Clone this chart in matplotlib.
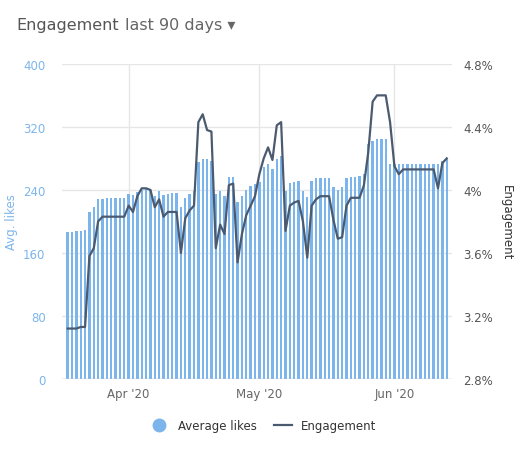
import numpy as np
import pandas as pd
import matplotlib.pyplot as plt
import matplotlib.dates as mdates
from matplotlib.lines import Line2D

dates = pd.date_range('2020-03-18', '2020-06-13', freq='D')

avg_likes = [187, 187, 188, 188, 189,
             212, 218, 228, 229, 230, 230, 230, 230, 230,
             235, 233, 237, 240, 241, 240, 232, 238, 233, 235, 236, 236, 218, 230, 235,
             238, 275, 279, 279, 277, 235, 238, 232, 256, 256, 225, 232, 240, 245, 248,
             250, 269, 273, 267, 279, 283, 239, 249, 250, 251, 239, 231, 251, 255, 255,
             255, 255, 244, 240, 244, 255, 256, 256, 258, 260, 298, 302, 304, 305, 305, 273,
             273, 273, 273, 273, 273, 273, 273, 273, 273, 273, 273, 277, 279]

engagement = [3.12, 3.12, 3.12, 3.13, 3.13,
              3.58, 3.63, 3.80, 3.83, 3.83, 3.83, 3.83, 3.83, 3.83,
              3.90, 3.86, 3.96, 4.01, 4.01, 4.00, 3.89, 3.94, 3.83, 3.86, 3.86, 3.86, 3.60, 3.82, 3.87,
              3.90, 4.43, 4.48, 4.38, 4.37, 3.63, 3.78, 3.72, 4.03, 4.04, 3.54, 3.72, 3.84, 3.90, 3.96,
              4.10, 4.20, 4.27, 4.19, 4.41, 4.43, 3.74, 3.90, 3.92, 3.93, 3.80, 3.57, 3.90, 3.94, 3.96,
              3.96, 3.96, 3.81, 3.69, 3.70, 3.90, 3.95, 3.95, 3.95, 4.03, 4.24, 4.56, 4.60, 4.60, 4.60, 4.43,
              4.15, 4.10, 4.13, 4.13, 4.13, 4.13, 4.13, 4.13, 4.13, 4.13, 4.01, 4.17, 4.20]

left_ticks = [0, 80, 160, 240, 320, 400]
right_ticks = [2.8, 3.2, 3.6, 4.0, 4.4, 4.8]
right_labels = ['2.8%', '3.2%', '3.6%', '4%', '4.4%', '4.8%']

bar_col = '#7cb5ec'
line_col = '#4b5a6e'
grid_col = '#e6e6e6'

fig = plt.figure(figsize=(5.27, 4.6), dpi=100)
ax = fig.add_axes([0.118, 0.174, 0.74, 0.685])
ax.bar(dates, avg_likes, width=0.55, color=bar_col, zorder=2)
ax.set_ylim(0, 400)
ax.set_yticks(left_ticks)
ax.set_xlim(pd.Timestamp('2020-03-16 18:00'), pd.Timestamp('2020-06-14 06:00'))
ax.xaxis.set_major_locator(mdates.MonthLocator(bymonthday=1))
ax.xaxis.set_major_formatter(mdates.DateFormatter("%b '%y"))
ax.grid(True, color=grid_col, lw=1, zorder=0)
for s in ax.spines.values():
    s.set_visible(False)
ax.tick_params(axis='y', colors=bar_col, length=0, labelsize=8.5, pad=12)
ax.tick_params(axis='x', colors='#666666', length=0, labelsize=8.5, pad=6)
ax.axhline(0, color='#cccccc', lw=1, zorder=3)
ax.set_ylabel('Avg. likes', color=bar_col, fontsize=8.5, labelpad=4)

ax2 = ax.twinx()
ax2.plot(dates, engagement, color=line_col, lw=1.6, zorder=4)
ax2.set_ylim(2.8, 4.8)
ax2.set_yticks(right_ticks)
ax2.set_yticklabels(right_labels)
for s in ax2.spines.values():
    s.set_visible(False)
ax2.tick_params(axis='y', colors='#555555', length=0, labelsize=8.5, pad=8)
ax2.set_ylabel('Engagement', color='#333333', fontsize=8.5, rotation=270, labelpad=14)

t1 = fig.text(0.032, 0.945, 'Engagement', fontsize=11.5, color='#555555', va='center')
fig.canvas.draw()
ax.annotate('last 90 days \u25be', xy=(1, 0.5), xycoords=t1, xytext=(4, 0),
            textcoords='offset points', fontsize=11.5, color='#666666', va='center')

handles = [Line2D([], [], marker='o', ls='', color=bar_col, markersize=9),
           Line2D([], [], color=line_col, lw=1.6)]
fig.legend(handles, ['Average likes', 'Engagement'], loc='center', bbox_to_anchor=(0.5, 0.072),
           ncol=2, frameon=False, fontsize=8.5, handlelength=1.5, columnspacing=1.5,
           labelcolor='#333333')

fig.savefig('out.png', dpi=100)
